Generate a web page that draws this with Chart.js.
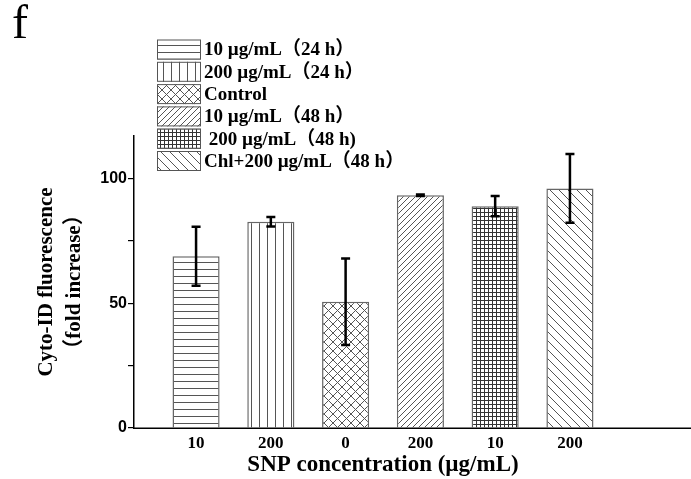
<!DOCTYPE html>
<html lang="en">
    <head>
        <meta charset="UTF-8">
        <title>Cyto-ID fluorescence</title>
        <script src="https://cdn.jsdelivr.net/npm/chart.js"></script>
        <style>
            html, body { margin: 0; padding: 0; background: #fff; }
            #wrap { width: 691px; height: 479px; position: relative; }
        </style>
    </head>
    <body>
        <div id="wrap"><canvas id="chart"></canvas></div>
        <script>
        // values
        const xLabels = ['10', '200', '0', '200', '10', '200'];
        const groups = ['10 µg/mL（24 h）', '200 µg/mL（24 h）', 'Control', '10 µg/mL（48 h）', ' 200 µg/mL（48 h)', 'Chl+200 µg/mL（48 h）'];
        const means = [68.8, 82.6, 50.6, 93.3, 88.9, 96.0];
        const errors = [11.8, 1.9, 17.3, 0.3, 4.1, 13.8];
        const positions = [1, 2, 3, 4, 5, 6];
        const yTicks = [0, 25, 50, 75, 100];
        const yLabelled = [0, 50, 100];

        const serif = '"Liberation Serif", "Times New Roman", "Noto Sans CJK SC", serif';
        const sans = '"Liberation Sans", Arial, sans-serif';

        // hatch patterns
        function makePattern(w, h, draw) {
            const c = document.createElement('canvas');
            c.width = w; c.height = h;
            const g = c.getContext('2d');
            g.fillStyle = '#fff';
            g.fillRect(0, 0, w, h);
            g.strokeStyle = '#555';
            g.lineWidth = 1;
            draw(g, w, h);
            return document.getElementById('chart').getContext('2d').createPattern(c, 'repeat');
        }
        function line(g, x1, y1, x2, y2) {
            g.beginPath(); g.moveTo(x1, y1); g.lineTo(x2, y2); g.stroke();
        }
        const patterns = [
            makePattern(8, 7, (g, w, h) => line(g, 0, 3.5, w, 3.5)),
            makePattern(8, 8, (g, w, h) => line(g, 3.5, 0, 3.5, h)),
            makePattern(9, 9, (g, w, h) => {
                line(g, 0, 0, w, h); line(g, 0, h, w, 0);
            }),
            makePattern(6, 6, (g, w, h) => {
                line(g, -1, h + 1, w + 1, -1); line(g, -1, 1, 1, -1); line(g, w - 1, h + 1, w + 1, h - 1);
            }),
            makePattern(4, 4, (g, w, h) => {
                g.strokeStyle = '#333';
                line(g, 0.5, 0, 0.5, h); line(g, 0, 0.5, w, 0.5);
            }),
            makePattern(9, 9, (g, w, h) => {
                line(g, -1, -1, w + 1, h + 1); line(g, w - 1, -1, w + 1, 1); line(g, -1, h - 1, 1, h + 1);
            })
        ];

        // error bars on top of the bars
        const errorBars = {
            id: 'errorBars',
            afterDatasetsDraw(chart) {
                const ctx = chart.ctx;
                const xs = chart.scales.x, ys = chart.scales.y;
                ctx.save();
                ctx.strokeStyle = '#000';
                ctx.lineWidth = 2.5;
                means.forEach((m, i) => {
                    const x = xs.getPixelForValue(positions[i]);
                    const top = ys.getPixelForValue(m + errors[i]);
                    const bot = ys.getPixelForValue(m - errors[i]);
                    ctx.beginPath();
                    ctx.moveTo(x, top); ctx.lineTo(x, bot);
                    ctx.moveTo(x - 4.5, top); ctx.lineTo(x + 4.5, top);
                    ctx.moveTo(x - 4.5, bot); ctx.lineTo(x + 4.5, bot);
                    ctx.stroke();
                });
                ctx.restore();
            }
        };

        // x axis line: from the y axis on to the right edge of the figure
        const axisLine = {
            id: 'axisLine',
            afterDraw(chart) {
                const { ctx, chartArea } = chart;
                const y = chartArea.bottom + 0.25;
                ctx.save();
                ctx.strokeStyle = '#000';
                ctx.lineWidth = 1.5;
                ctx.beginPath();
                ctx.moveTo(chartArea.left - 1, y);
                ctx.lineTo(chart.width, y);
                ctx.stroke();
                ctx.restore();
            }
        };

        // legend box in the upper left, overlapping the plot top
        const patternLegend = {
            id: 'patternLegend',
            afterDraw(chart) {
                const ctx = chart.ctx;
                ctx.save();
                // panel letter
                ctx.fillStyle = '#000';
                ctx.font = '48px ' + serif;
                ctx.textBaseline = 'alphabetic';
                ctx.fillText('f', 12, 38);
                ctx.font = 'bold 19px ' + serif;
                ctx.textBaseline = 'middle';
                groups.forEach((name, i) => {
                    const y = 39.5 + i * 22.3;
                    ctx.fillStyle = patterns[i];
                    ctx.fillRect(157, y, 44, 20);
                    ctx.strokeStyle = '#555';
                    ctx.lineWidth = 1;
                    ctx.strokeRect(157.5, y + 0.5, 43, 19);
                    ctx.fillStyle = '#000';
                    ctx.fillText(name, 204, y + 11);
                });
                ctx.restore();
            }
        };

        new Chart(document.getElementById('chart'), {
            type: 'bar',
            data: {
                labels: positions,
                datasets: [{
                    data: means,
                    backgroundColor: patterns,
                    borderColor: '#666',
                    borderWidth: 1.5,
                    categoryPercentage: 1,
                    barPercentage: 0.63
                }]
            },
            options: {
                responsive: true,
                maintainAspectRatio: false,
                animation: false,
                layout: { padding: { top: 136, left: 0, right: 59, bottom: 0 } },
                plugins: { legend: { display: false }, tooltip: { enabled: false } },
                scales: {
                    x: {
                        type: 'linear',
                        offset: false,
                        min: 0.17,
                        max: 6.83,
                        afterBuildTicks: s => { s.ticks = positions.map(v => ({ value: v })); },
                        afterFit: s => { s.height = 51; },
                        grid: { display: false, drawTicks: false },
                        border: { display: false },
                        ticks: {
                            color: '#000',
                            padding: 5,
                            maxRotation: 0,
                            font: { family: serif, size: 17, weight: 'bold' },
                            callback: v => xLabels[positions.indexOf(v)]
                        },
                        title: {
                            display: true,
                            text: 'SNP concentration (µg/mL)',
                            color: '#000',
                            font: { family: serif, size: 23, weight: 'bold', lineHeight: 1.1 },
                            padding: { top: 0, bottom: 1 }
                        }
                    },
                    y: {
                        min: 0,
                        max: 117,
                        afterBuildTicks: s => { s.ticks = yTicks.map(v => ({ value: v })); },
                        afterFit: s => { s.width = 134; },
                        grid: { drawOnChartArea: false, drawTicks: true, tickLength: 6, color: '#000', lineWidth: 1.2 },
                        border: { display: true, color: '#000', width: 1.5 },
                        ticks: {
                            color: '#000',
                            padding: 1,
                            font: { family: sans, size: 16, weight: 'bold' },
                            callback: v => yLabelled.includes(v) ? String(v) : ''
                        },
                        title: {
                            display: true,
                            text: ['Cyto-ID fluorescence', '（fold increase）'],
                            color: '#000',
                            font: { family: serif, size: 21, weight: 'bold', lineHeight: 1.33 },
                            padding: { top: 33, bottom: 0 }
                        }
                    }
                }
            },
            plugins: [errorBars, axisLine, patternLegend]
        });
        </script>
    </body>
</html>
